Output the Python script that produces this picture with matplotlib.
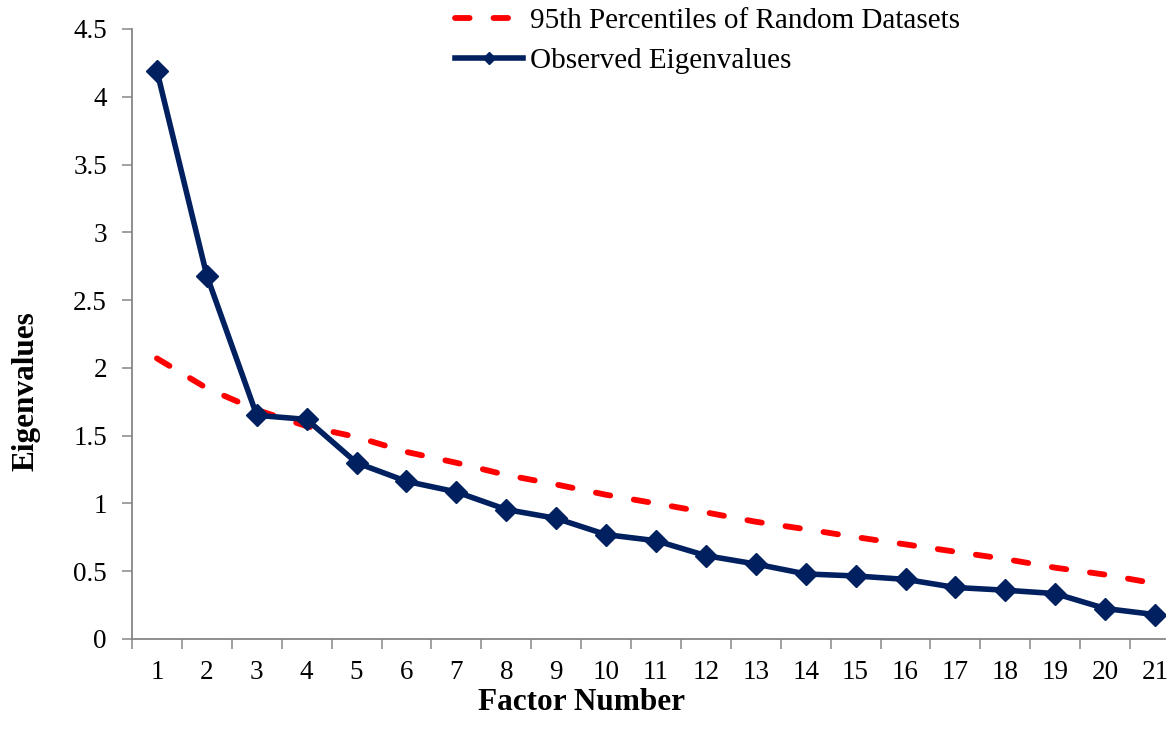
import matplotlib
matplotlib.use("Agg")
import matplotlib.pyplot as plt
from matplotlib.ticker import FixedLocator, NullFormatter, FixedFormatter

plt.rcParams['font.family'] = ['Liberation Serif', 'DejaVu Serif']

factors = list(range(1, 22))
observed = [4.19, 2.68, 1.65, 1.62, 1.30, 1.163, 1.085, 0.955, 0.89, 0.77,
            0.725, 0.615, 0.553, 0.48, 0.465, 0.44, 0.38, 0.36, 0.335, 0.225, 0.18]
random95 = [2.07, 1.85, 1.69, 1.57, 1.49, 1.38, 1.30, 1.21, 1.14, 1.064,
            1.00, 0.934, 0.865, 0.81, 0.752, 0.698, 0.644, 0.59, 0.526, 0.475, 0.41]
ytick_vals = [0, 0.5, 1, 1.5, 2, 2.5, 3, 3.5, 4, 4.5]
ytick_labels = ['0', '0.5', '1', '1.5', '2', '2.5', '3', '3.5', '4', '4.5']
label_random = '95th Percentiles of Random Datasets'
label_observed = 'Observed Eigenvalues'

W, H = 1172, 743
fig = plt.figure(figsize=(W / 100, H / 100), dpi=100)
ax = fig.add_axes([132 / W, 1 - 639 / H, (1165 - 132) / W, (639 - 29) / H])

navy = '#002060'
red = '#FF0000'

l_red, = ax.plot(factors, random95, color=red, lw=4.2, dashes=(2.5, 4.1),
                 dash_capstyle='round', label=label_random, zorder=2)
l_obs, = ax.plot(factors, observed, color=navy, lw=4.0, marker='D', ms=11,
                 mec=navy, mfc=navy, mew=1.0, label=label_observed, zorder=3,
                 solid_joinstyle='round')

ax.set_xlim(0.5, 21.2)
ax.set_ylim(0, 4.5)

# Category axis: tick marks between categories, labels at centres
ax.xaxis.set_major_locator(FixedLocator([i + 0.5 for i in range(0, 21)]))
ax.xaxis.set_major_formatter(NullFormatter())
ax.xaxis.set_minor_locator(FixedLocator(factors))
ax.xaxis.set_minor_formatter(FixedFormatter([str(f) for f in factors]))
ax.tick_params(axis='x', which='major', direction='out', length=7, width=1.1,
               color='#868686')
ax.tick_params(axis='x', which='minor', length=0, pad=15, labelsize=19.5)

ax.set_yticks(ytick_vals)
ax.set_yticklabels(ytick_labels)
ax.tick_params(axis='y', direction='out', length=7, width=1.1, color='#868686',
               pad=11, labelsize=19.5)

for s in ['top', 'right']:
    ax.spines[s].set_visible(False)
for s in ['left', 'bottom']:
    ax.spines[s].set_color('#868686')
    ax.spines[s].set_linewidth(1.3)

fig.text(582 / W, 1 - 703 / H, 'Factor Number', ha='center', va='center',
         fontsize=22.5, fontweight='bold')
fig.text(26 / W, 1 - 391 / H, 'Eigenvalues', ha='center', va='center',
         fontsize=22.5, fontweight='bold', rotation=90)

fig.legend(handles=[l_red, l_obs], loc='upper left',
           bbox_to_anchor=(455 / W, 1 - 8 / H), frameon=False, fontsize=21,
           handlelength=2.33, handletextpad=0.24, labelspacing=0.45,
           markerscale=0.55, borderaxespad=0, borderpad=0)

fig.savefig('out.png', dpi=100)
